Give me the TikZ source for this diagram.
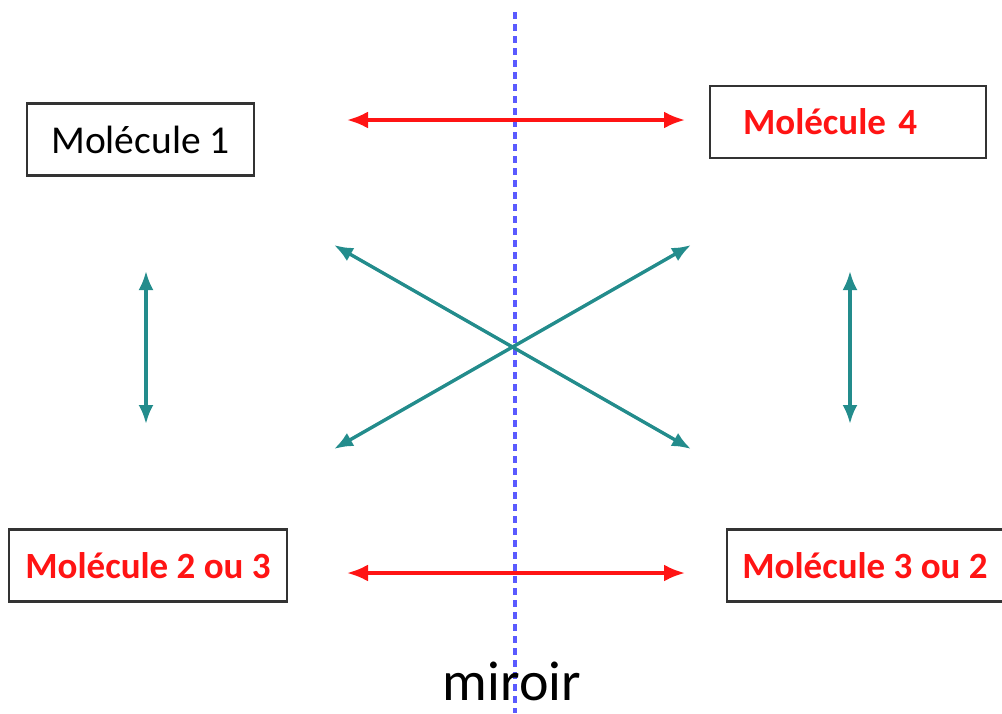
\documentclass[tikz,border=0pt]{standalone}
\usepackage{fontspec}
\setmainfont{Carlito}
\usetikzlibrary{arrows.meta}
\definecolor{redA}{RGB}{255,20,20}
\definecolor{tealA}{RGB}{35,140,140}
\definecolor{blueA}{RGB}{90,90,255}
\tikzset{
  box/.style={draw=black!80, line width=2.4pt, minimum height=72pt, inner ysep=0pt},
  redlbl/.style={text=redA, font=\fontsize{37}{42}\selectfont\bfseries},
  redarr/.style={draw=redA, line width=3.4pt, {Latex[length=21pt,width=17pt]}-{Latex[length=21pt,width=17pt]}},
  tealarr/.style={draw=tealA, line width=3.4pt, {Latex[length=19pt,width=15pt]}-{Latex[length=19pt,width=15pt]}},
  mirrorline/.style={draw=blueA, line width=3.2pt, dash pattern=on 7pt off 5pt}
}
\begin{document}
\begin{tikzpicture}[x=1pt,y=-1pt]
\useasboundingbox (0,0) rectangle (1002,713);
% mirror
\coordinate (mtop) at (515,12);
\coordinate (mbot) at (515,713);
\draw[mirrorline] (mtop) -- (mbot);
% boxes
\node[box, minimum width=227pt, font=\fontsize{39.5}{44}\selectfont] (m1) at (140.5,139.5) {Molécule 1};
\node[box, redlbl, text width=238pt, inner xsep=19pt, align=left] (m4) at (848,122) {\hspace*{14pt}Molécule 4};
\node[box, redlbl, minimum width=278pt, inner xsep=0pt] (m23) at (148,565.5) {Molécule 2 ou 3};
\node[box, redlbl, minimum width=276pt, inner xsep=0pt] (m32) at (865,565.5) {Molécule 3 ou 2};
% red arrows
\coordinate (r1a) at (347,120); \coordinate (r1b) at (685,120);
\coordinate (r2a) at (347,573); \coordinate (r2b) at (685,573);
\draw[redarr] (r1a) -- (r1b);
\draw[redarr] (r2a) -- (r2b);
% teal cross
\coordinate (tl) at (334,245); \coordinate (br) at (691,449);
\coordinate (bl) at (334,449); \coordinate (tr) at (691,245);
\draw[tealarr] (tl) -- (br);
\draw[tealarr] (bl) -- (tr);
% vertical teal arrows
\coordinate (v1a) at (146,271); \coordinate (v1b) at (146,424);
\coordinate (v2a) at (850,271); \coordinate (v2b) at (850,424);
\draw[tealarr] (v1a) -- (v1b);
\draw[tealarr] (v2a) -- (v2b);
% label
\node[font=\fontsize{56}{62}\selectfont, anchor=base, inner sep=0pt] (mir) at (512,700) {miroir};
\end{tikzpicture}
\end{document}
